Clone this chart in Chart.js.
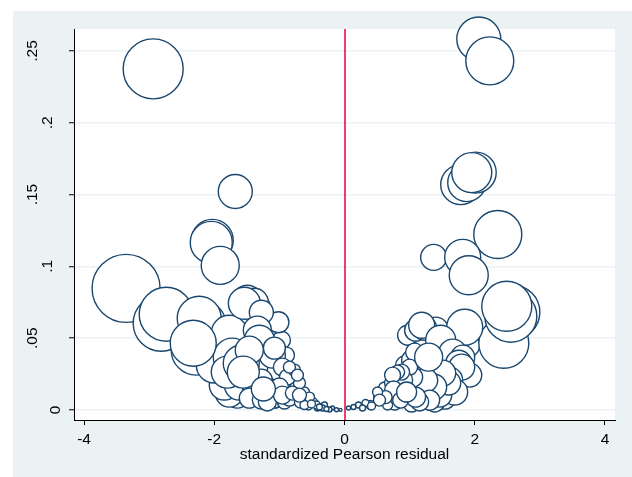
<!DOCTYPE html>
<html>
<head>
<meta charset="utf-8">
<script src="https://cdn.jsdelivr.net/npm/chart.js@4.4.1/dist/chart.umd.min.js"></script>
<style>
html,body{margin:0;padding:0;background:#fff;}
canvas{display:block;}
</style>
</head>
<body>
<canvas id="c" width="632" height="477"></canvas>
<script>
// ---- data ----
const xTicks = [-4, -2, 0, 2, 4];
const xTickLabels = ["-4", "-2", "0", "2", "4"];
const yTicks = [0, 0.05, 0.1, 0.15, 0.2, 0.25];
const yTickLabels = ["0", ".05", ".1", ".15", ".2", ".25"];
const xTitle = "standardized Pearson residual";
const refLineX = 0;

// standardized Pearson residual
const resid = [
  // back layer, left
  -1.492, -1.338, -1.431, -1.231, -1.185, -0.969, -0.892, -1.031, -0.815, -0.754,
  -0.615, -0.692, -2.077, -1.923, -1.692, -1.646, -1.462, -1.846, -1.277, -1.077,
  -0.600, -0.554, -0.477, -0.415, -0.308, -0.185,
  // back layer, right
  0.615, 0.723, 0.846, 0.923, 1.031, 1.154, 1.277, 1.400, 1.538, 1.615,
  1.738, 1.538, 1.385, 1.231, 1.031, 0.769, 0.662, 1.923, 1.892, 0.969,
  // left
  -2.938, -1.677, -2.031, -2.046, -1.908, -3.354, -2.815, -2.738, -2.138, -2.231,
  -1.769, -1.846, -1.615, -1.385, -1.462, -1.277, -1.154, -1.077, -1.185,
  -2.277, -1.769, -1.462, -1.385, -1.538, -1.015, -1.277, -1.338, -1.308, -1.108, -1.077,
  -2.000, -1.723, -1.800, -1.585, -1.462, -2.323,
  -0.954, -0.877, -1.000, -0.923, -0.846, -0.769, -0.846, -0.723, -0.954,
  -1.554, -1.246, -0.800, -0.677, -0.538, -0.615, -0.431, -0.338, -0.231, -0.123,
  -0.508, -0.385, -0.277, -0.062, -0.692,
  // right
  2.062, 2.231, 1.785, 1.877, 2.015, 1.954, 2.354, 1.369, 1.815, 1.908,
  2.446, 2.585, 2.554, 2.492, 1.846,
  1.092, 1.231, 1.185, 1.477, 1.662, 1.815, 1.754, 1.800, 1.615, 1.692,
  1.462, 1.600, 1.508, 1.369, 1.246, 1.308, 1.154, 1.046, 1.077, 1.000,
  0.908, 0.877, 0.815, 0.738, 0.754, 0.862, 1.092, 1.292, 0.954,
  0.631, 0.523, 0.508, 0.400, 0.323, 0.215, 0.138, 0.062, 0.277, 0.538, 0.415
];
// influence (delta-beta)
const dbeta = [
  0.0764, 0.0715, 0.0639, 0.0556, 0.0451, 0.0486, 0.0382, 0.0278, 0.0208, 0.0153,
  0.0125, 0.0188, 0.0417, 0.0451, 0.0486, 0.0104, 0.0153, 0.0208, 0.0208, 0.0083,
  0.0069, 0.0028, 0.0056, 0.0014, 0.0035, 0.0014,
  0.0153, 0.0188, 0.0174, 0.0313, 0.0347, 0.0451, 0.0486, 0.0556, 0.0382, 0.0313,
  0.0264, 0.0083, 0.0056, 0.0083, 0.0042, 0.0049, 0.0035, 0.0243, 0.0451, 0.0521,
  0.2375, 0.1521, 0.1181, 0.1167, 0.1007, 0.0847, 0.0604, 0.0667, 0.0611, 0.0639,
  0.0118, 0.0174, 0.0174, 0.0125, 0.0083, 0.0069, 0.0104, 0.0069, 0.0056,
  0.0417, 0.0535, 0.0729, 0.0750, 0.0743, 0.0611, 0.0681, 0.0556, 0.0486, 0.0382, 0.0431,
  0.0313, 0.0368, 0.0264, 0.0326, 0.0417, 0.0465,
  0.0299, 0.0229, 0.0160, 0.0056, 0.0083, 0.0278, 0.0299, 0.0243, 0.0104,
  0.0264, 0.0146, 0.0118, 0.0056, 0.0090, 0.0035, 0.0035, 0.0014, 0.0004, 0.0002,
  0.0042, 0.0021, 0.0007, 0.0001, 0.0104,
  0.2583, 0.2431, 0.1569, 0.1583, 0.1653, 0.1653, 0.1222, 0.1063, 0.1063, 0.0938,
  0.0465, 0.0681, 0.0653, 0.0722, 0.0576,
  0.0556, 0.0569, 0.0590, 0.0486, 0.0396, 0.0368, 0.0326, 0.0299, 0.0208, 0.0125,
  0.0104, 0.0188, 0.0257, 0.0160, 0.0208, 0.0069, 0.0056, 0.0229, 0.0403, 0.0299,
  0.0208, 0.0264, 0.0264, 0.0243, 0.0139, 0.0069, 0.0090, 0.0368, 0.0125,
  0.0090, 0.0083, 0.0125, 0.0035, 0.0049, 0.0035, 0.0021, 0.0014, 0.0014, 0.0069, 0.0028
];
// bubble weight
const weight = [
  1.5, 1.3, 1.3, 1.2, 1.2, 0.9, 0.8, 1.0, 0.7, 0.6,
  0.5, 0.6, 2.0, 1.9, 1.7, 1.3, 1.2, 1.5, 1.1, 1.0,
  0.5, 0.4, 0.4, 0.3, 0.3, 0.2,
  0.6, 0.7, 0.8, 0.9, 1.0, 1.1, 1.2, 1.3, 1.4, 1.4,
  1.3, 1.1, 1.0, 1.0, 0.8, 0.7, 0.5, 1.2, 1.2, 1.0,
  3.0, 1.7, 2.1, 2.1, 1.9, 3.4, 2.8, 2.7, 2.0, 2.2,
  1.4, 1.5, 1.5, 1.2, 1.0, 0.9, 1.0, 0.8, 0.9,
  2.5, 1.8, 1.4, 1.4, 1.6, 1.05, 1.2, 1.4, 1.5, 1.3, 1.1,
  1.8, 1.9, 1.6, 1.8, 1.4, 2.3,
  0.9, 0.8, 0.9, 0.7, 0.8, 0.6, 0.6, 0.6, 0.9,
  1.6, 1.2, 0.7, 0.6, 0.5, 0.45, 0.4, 0.3, 0.25, 0.2,
  0.4, 0.3, 0.25, 0.15, 0.7,
  2.2, 2.4, 2.0, 1.9, 2.05, 2.0, 2.4, 1.3, 1.8, 1.95,
  2.5, 2.7, 2.6, 2.5, 1.8,
  1.1, 1.2, 1.3, 1.5, 1.4, 1.2, 1.3, 1.3, 1.3, 1.3,
  1.2, 1.2, 1.3, 1.3, 1.2, 1.0, 0.9, 1.0, 0.9, 0.8,
  0.9, 0.8, 0.7, 0.8, 0.9, 0.8, 1.0, 1.4, 1.0,
  0.65, 0.5, 0.5, 0.45, 0.35, 0.3, 0.25, 0.2, 0.3, 0.6, 0.4
];

// ---- styling ----
const FONT = '"Liberation Sans", Arial, Helvetica, sans-serif';
const FS = 15.5;
const RADIUS_SCALE = 10;
const NAVY = '#1a476f';
const BG = '#eaf2f3';

const points = resid.map((x, i) => ({ x: x, y: dbeta[i], r: weight[i] * RADIUS_SCALE }));

const bgPlugin = {
  id: 'stataBg',
  beforeDraw(chart) {
    const { ctx, chartArea: a } = chart;
    ctx.save();
    ctx.fillStyle = '#fff';
    ctx.fillRect(0, 0, chart.width, chart.height);
    ctx.fillStyle = BG;
    ctx.fillRect(13, 11, chart.width - 13, chart.height - 11);
    ctx.fillStyle = '#fff';
    ctx.fillRect(a.left, a.top, a.right - a.left, a.bottom - a.top);
    ctx.restore();
  },
  beforeDatasetsDraw(chart) {
    const { ctx, chartArea: a, scales } = chart;
    const px = Math.round(scales.x.getPixelForValue(refLineX));
    ctx.save();
    ctx.strokeStyle = '#e4003c';
    ctx.lineWidth = 1.5;
    ctx.beginPath();
    ctx.moveTo(px, a.top);
    ctx.lineTo(px, a.bottom);
    ctx.stroke();
    ctx.restore();
  },
  afterDraw(chart) {
    const { ctx, chartArea: a, scales } = chart;
    ctx.save();
    ctx.font = FS + 'px ' + FONT;
    ctx.fillStyle = '#000';
    ctx.textAlign = 'center';
    ctx.textBaseline = 'middle';
    yTicks.forEach((v, i) => {
      const py = scales.y.getPixelForValue(v);
      const w = ctx.measureText(yTickLabels[i]).width;
      const cx = a.left - 3 - 1.78 * w;
      ctx.save();
      ctx.translate(cx, py);
      ctx.rotate(-Math.PI / 2);
      ctx.fillText(yTickLabels[i], 0, 0);
      ctx.restore();
    });
    ctx.restore();
  }
};

new Chart(document.getElementById('c'), {
  type: 'bubble',
  data: {
    datasets: [{
      data: points,
      backgroundColor: '#ffffff',
      borderColor: NAVY,
      borderWidth: 1.4,
      hoverRadius: 0,
      hoverBorderWidth: 1.4,
      clip: false
    }]
  },
  options: {
    responsive: false,
    animation: false,
    events: [],
    layout: { autoPadding: false, padding: { top: 29, right: 17, left: 0, bottom: 0 } },
    plugins: { legend: { display: false }, tooltip: { enabled: false } },
    scales: {
      x: {
        type: 'linear',
        min: -4 - 10 / 65,
        max: 4 + 10 / 65,
        afterBuildTicks: s => { s.ticks = xTicks.map(v => ({ value: v })); },
        afterFit: s => { s.height = 57; },
        grid: { drawOnChartArea: false, drawTicks: true, tickLength: 5, tickColor: '#000', tickWidth: 1 },
        border: { display: true, color: '#000', width: 1 },
        ticks: {
          color: '#000',
          padding: 5,
          maxRotation: 0,
          autoSkip: false,
          font: { family: FONT, size: FS },
          callback: (v, i) => xTickLabels[i]
        },
        title: {
          display: true,
          text: xTitle,
          color: '#000',
          font: { family: FONT, size: FS },
          padding: { top: 0, bottom: 13 }
        }
      },
      y: {
        type: 'linear',
        min: -10 / 1440,
        max: 0.25 + 22 / 1440,
        afterBuildTicks: s => { s.ticks = yTicks.map(v => ({ value: v })); },
        afterFit: s => { s.width = 74; },
        grid: { color: BG, lineWidth: 1.5, drawTicks: true, tickLength: 5, tickColor: '#000', tickWidth: 1 },
        border: { display: true, color: '#000', width: 1 },
        ticks: {
          color: '#000',
          autoSkip: false,
          font: { family: FONT, size: FS },
          callback: () => ''
        }
      }
    }
  },
  plugins: [bgPlugin]
});
</script>
</body>
</html>
